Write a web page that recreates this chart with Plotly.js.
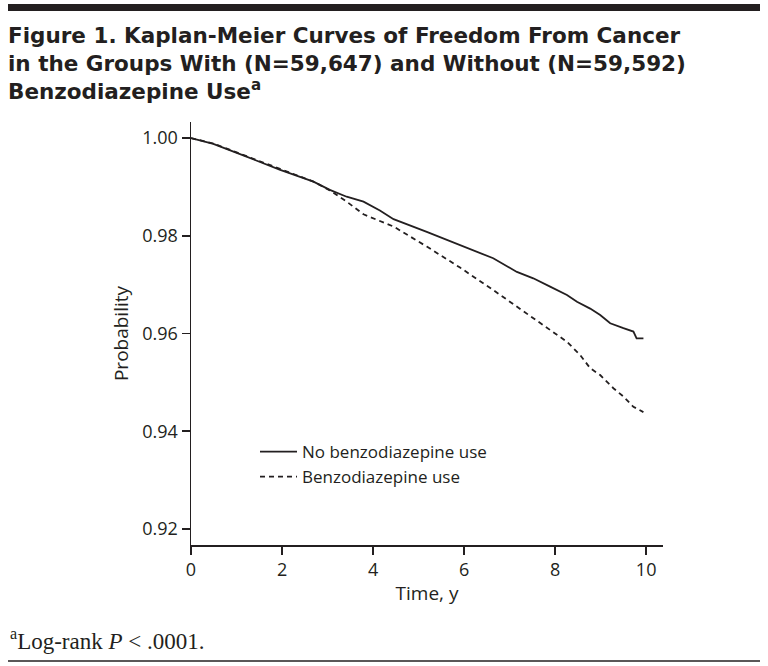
<!DOCTYPE html>
<html>
<head>
<meta charset="utf-8">
<script src="https://cdn.plot.ly/plotly-3.0.1.min.js"></script>
<style>
  html, body { margin: 0; padding: 0; background: #ffffff; }
  #chart { width: 768px; height: 666px; }
</style>
</head>
<body>
<div id="chart"></div>
<script>
// ---- Data ----
var seriesNames = ["No benzodiazepine use", "Benzodiazepine use"];

var timeNoBenzo = [0, 0.49, 1.22, 1.96, 2.69, 3.05, 3.42, 3.79, 4.15, 4.45, 5.18, 5.91, 6.64, 7.16, 7.52, 7.89, 8.26, 8.48, 8.77, 8.99, 9.21, 9.50, 9.72, 9.79, 9.94];
var probNoBenzo = [1.0000, 0.9988, 0.9962, 0.9935, 0.9911, 0.9894, 0.9880, 0.9870, 0.9852, 0.9834, 0.9808, 0.9781, 0.9754, 0.9726, 0.9713, 0.9696, 0.9679, 0.9665, 0.9651, 0.9638, 0.9621, 0.9611, 0.9604, 0.9590, 0.9590];

var timeBenzo = [0, 0.49, 1.22, 1.96, 2.69, 3.05, 3.42, 3.79, 4.45, 5.18, 5.91, 6.64, 7.16, 7.52, 7.89, 8.26, 8.55, 8.77, 8.99, 9.28, 9.50, 9.72, 9.94];
var probBenzo = [1.0000, 0.9989, 0.9963, 0.9936, 0.9911, 0.9893, 0.9870, 0.9844, 0.9819, 0.9778, 0.9735, 0.9689, 0.9655, 0.9631, 0.9607, 0.9583, 0.9556, 0.9529, 0.9515, 0.9488, 0.9471, 0.9450, 0.9439];

var xTickVals = [0, 2, 4, 6, 8, 10];
var yTickVals = [0.92, 0.94, 0.96, 0.98, 1.00];
var yTickText = ["0.92", "0.94", "0.96", "0.98", "1.00"];

var titleText = "Figure 1. Kaplan-Meier Curves of Freedom From Cancer<br>in the Groups With (N=59,647) and Without (N=59,592)<br>Benzodiazepine Use<sup>a</sup>";
var footnoteText = "<sup>a</sup>Log-rank <i>P</i> < .0001.";

// ---- Layout geometry (pixels) ----
var W = 768, H = 666;
var plotL = 191, plotR = 663, plotT = 122, plotB = 545;
function px2paperX(px) { return (px - plotL) / (plotR - plotL); }
function px2paperY(py) { return (plotB - py) / (plotB - plotT); }

var ink = "#231f20";
var sansFont = "'Open Sans', Lato, sans-serif";
var titleFont = "'DejaVu Sans', 'Open Sans', sans-serif";

var traces = [
  {
    x: timeNoBenzo, y: probNoBenzo, name: seriesNames[0],
    type: "scatter", mode: "lines",
    line: { color: ink, width: 1.8, dash: "solid" }
  },
  {
    x: timeBenzo, y: probBenzo, name: seriesNames[1],
    type: "scatter", mode: "lines",
    line: { color: ink, width: 1.8, dash: "5px,4px" }
  }
];

var layout = {
  width: W, height: H,
  margin: { l: plotL, r: W - plotR, t: plotT, b: H - plotB, pad: 0 },
  paper_bgcolor: "#ffffff",
  plot_bgcolor: "#ffffff",
  font: { family: sansFont, color: ink, size: 17 },
  title: {
    text: titleText,
    x: 8 / W, xanchor: "left", xref: "container",
    y: 1 - 43 / H, yanchor: "top", yref: "container",
    font: { family: titleFont, size: 21.5, color: ink, weight: "bold" }
  },
  showlegend: true,
  legend: {
    x: px2paperX(255), xanchor: "left",
    y: px2paperY(434), yanchor: "top",
    bgcolor: "rgba(0,0,0,0)", borderwidth: 0,
    itemwidth: 37,
    font: { family: sansFont, size: 17, color: ink },
    tracegroupgap: 0
  },
  xaxis: {
    range: [0, 10.37],
    tickvals: xTickVals,
    ticks: "outside", ticklen: 8, tickwidth: 1.5, tickcolor: ink,
    showline: true, linecolor: ink, linewidth: 1.5,
    showgrid: false, zeroline: false,
    tickfont: { family: sansFont, size: 18, color: ink },
    title: { text: "Time, y", font: { family: sansFont, size: 19, color: ink }, standoff: 6 }
  },
  yaxis: {
    range: [0.9167, 1.0033],
    tickvals: yTickVals, ticktext: yTickText,
    ticks: "outside", ticklen: 8, tickwidth: 1.5, tickcolor: ink,
    showline: true, linecolor: ink, linewidth: 1.5,
    showgrid: false, zeroline: false,
    tickfont: { family: sansFont, size: 18, color: ink },
    title: { text: "Probability", font: { family: sansFont, size: 19, color: ink }, standoff: 8 }
  },
  shapes: [
    {
      type: "rect", xref: "paper", yref: "paper",
      x0: px2paperX(8), x1: px2paperX(760),
      y0: px2paperY(11), y1: px2paperY(4),
      fillcolor: ink, line: { width: 0 }
    },
    {
      type: "line", xref: "paper", yref: "paper",
      x0: px2paperX(8), x1: px2paperX(760),
      y0: px2paperY(661), y1: px2paperY(661),
      line: { color: ink, width: 1.5 }
    }
  ],
  annotations: [
    {
      text: footnoteText,
      xref: "paper", yref: "paper",
      x: px2paperX(8), xanchor: "left",
      y: px2paperY(639), yanchor: "middle",
      showarrow: false,
      font: { family: "'Liberation Serif', 'DejaVu Serif', serif", size: 23, color: ink }
    }
  ]
};

Plotly.newPlot("chart", traces, layout, { staticPlot: true, displayModeBar: false });
</script>
</body>
</html>
